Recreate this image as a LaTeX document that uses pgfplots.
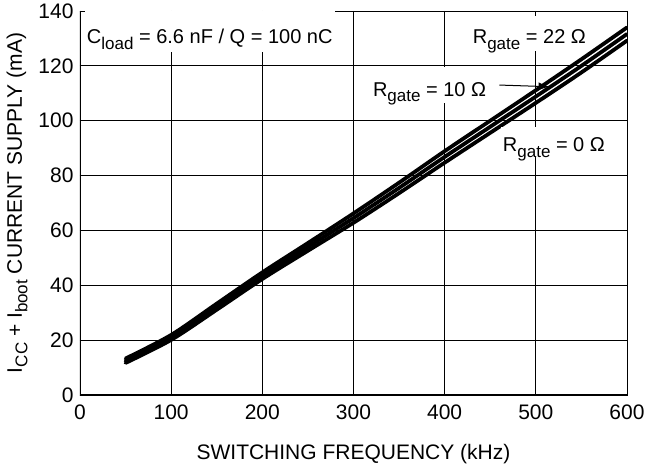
\documentclass[border=0pt]{standalone}
\usepackage{fontspec}
\setmainfont{Liberation Sans}
\usepackage{pgfplots}
\pgfplotsset{compat=1.18}
\usetikzlibrary{arrows.meta}
\newcommand{\sub}[1]{\raisebox{-5.5pt}{\fontsize{17}{18}\selectfont #1}}
\pgfplotstableread{
x    r0     r10    r22
50   11.7   12.5   13.3
100  20.1   21.0   21.9
150  31.1   32.2   33.3
200  42.3   43.5   44.7
250  52.6   54.0   55.4
300  62.8   64.5   66.2
350  73.6   75.5   77.4
400  84.7   86.8   88.9
450  95.6   97.8   100.0
500  106.5  108.8  111.1
550  117.6  120.0  122.4
600  129.2  131.6  134.0
}\datatable
\begin{document}
\begin{tikzpicture}
\useasboundingbox (-80pt,-71pt) rectangle (573pt,395pt);
\begin{axis}[
  at={(0pt,0pt)}, anchor=south west,
  scale only axis, width=547pt, height=384pt,
  xmin=0, xmax=600, ymin=0, ymax=140,
  xtick={0,100,...,600}, ytick={0,20,...,140},
  grid=major, major grid style={black, line width=0.9pt},
  axis line style={black, line width=0.9pt},
  tick style={black, line width=0.9pt}, major tick length=4pt, tick align=inside,
  font=\fontsize{21}{25}\selectfont,
  /pgf/number format/assume math mode=true,
  xticklabel style={yshift=-6pt},
  yticklabel style={xshift=-3pt},
  xlabel={SWITCHING FREQUENCY (kHz)},
  xlabel style={at={(axis description cs:0.5,-0.153)}, anchor=center},
  ylabel={I\sub{CC} + I\sub{boot} CURRENT SUPPLY (mA)},
  ylabel style={at={(axis description cs:-0.1152,0.5)}, anchor=center},
]
\addplot[black, line width=3.8pt, line cap=round, smooth] table[x=x, y=r0] {\datatable};
\addplot[black, line width=3.8pt, line cap=round, smooth] table[x=x, y=r10] {\datatable};
\addplot[black, line width=3.8pt, line cap=round, smooth] table[x=x, y=r22] {\datatable};
\draw[line width=2.6pt] (rel axis cs:0,1) -- (rel axis cs:0,0) -- (rel axis cs:1,0);
\node[anchor=base west, fill=white, inner sep=2pt, text height=31pt, text depth=6pt,
      font=\fontsize{20}{24}\selectfont] at (axis cs:5.2,128) {C\sub{load} = 6.6 nF / Q = 100 nC};
\node[anchor=base west, fill=white, inner sep=2pt, text height=26pt, text depth=5pt,
      font=\fontsize{20}{24}\selectfont] at (axis cs:428.5,128) {R\sub{gate} = 22 Ω};
\node[anchor=base west, fill=white, inner sep=2pt, text height=27pt, text depth=5pt,
      font=\fontsize{20}{24}\selectfont] at (axis cs:319,109) {R\sub{gate} = 10 Ω};
\node[anchor=base west, fill=white, inner sep=2pt, text height=23pt, text depth=3pt,
      font=\fontsize{20}{24}\selectfont] at (axis cs:461.5,88.6) {R\sub{gate} = 0 Ω};
\draw[line width=1pt, -{Latex[length=11pt,width=8pt]}] (axis cs:460,113) -- (axis cs:515,112.4);
\end{axis}
\end{tikzpicture}
\end{document}
